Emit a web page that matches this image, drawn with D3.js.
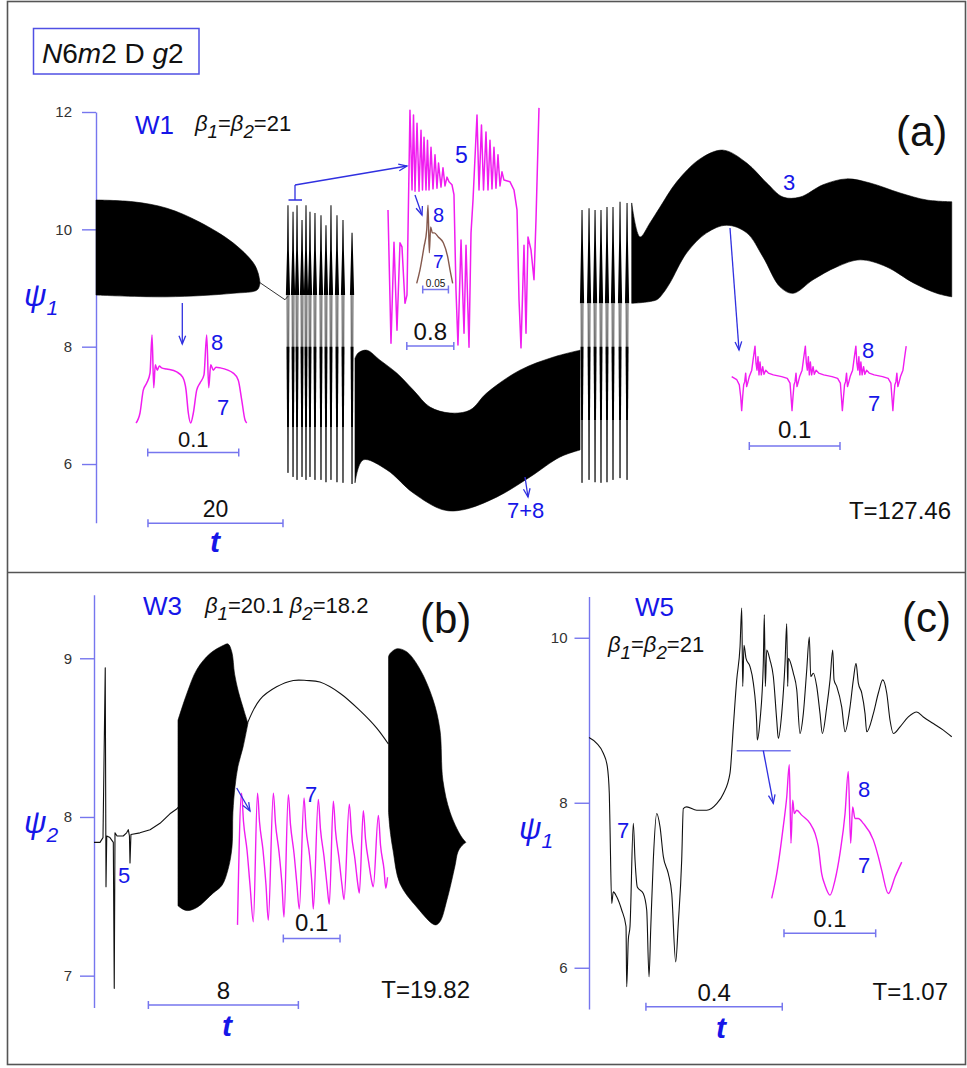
<!DOCTYPE html>
<html><head><meta charset="utf-8">
<script src="https://cdn.jsdelivr.net/npm/d3@7"></script>
<style>html,body{margin:0;padding:0;background:#fff;}svg{display:block;}</style>
</head><body>
<script>
// ---------------- Panel (a): W1, psi1 vs t, T = 127.46 ----------------
const aTicks = [6, 8, 10, 12];
// envelope of the fast oscillation, [t, psi1]
const aEnv1Upper = [[0,10.50],[5.5,10.47],[10.5,10.36],[15.4,10.12],[20.3,9.77],[23.3,9.43],[24.0,9.26],[24.3,9.09]];
const aEnv1Lower = [[0,8.88],[10.5,8.85],[20.3,8.91],[23.9,8.97],[24.3,9.09]];
const aBridge = [[24.3,9.09],[28.0,8.80],[28.44,8.86]];
// first spiking burst
const aBurst1T = [28.44,29.19,29.78,30.52,31.11,31.70,32.44,33.33,34.07,34.81,35.70,36.59,37.93];
const aBurst1Top = [10.41,10.30,10.41,10.16,10.41,10.30,10.28,10.24,10.07,10.41,10.24,10.16,9.94];
const aBurst1Bottom = [5.85,5.78,5.73,5.78,5.73,5.78,5.73,5.73,5.69,5.73,5.69,5.68,5.66];
// 7+8 band
const aEnv3Upper = [[38.37,7.80],[38.81,7.89],[40.10,7.94],[42.07,7.77],[44.55,7.55],[47.01,7.26],[49.48,6.97],[52.44,6.87],[55.41,6.92],[57.88,7.21],[62.81,7.60],[67.70,7.82],[71.70,7.94]];
const aEnv3Lower = [[38.37,5.68],[39.56,6.07],[43.10,5.90],[46.96,5.51],[51.41,5.22],[54.37,5.22],[59.41,5.44],[64.30,5.78],[68.74,6.12],[71.70,6.24]];
// second spiking burst
const aBurst2T = [72.00,73.04,73.93,74.81,75.70,76.59,77.63,78.67];
const aBurst2Top = [10.33,10.36,10.33,10.33,10.38,10.38,10.47,10.45];
const aBurst2Bottom = [5.68,5.73,5.69,5.68,5.69,5.73,5.76,5.73];
// mode 3 band
const aEnv5Upper = [[79.36,10.45],[80.59,9.87],[82.07,10.11],[83.56,10.38],[86.03,10.81],[89.48,11.20],[92.89,11.35],[96.40,11.13],[99.36,10.79],[101.78,10.55],[104.30,10.55],[107.70,10.76],[111.21,10.86],[114.67,10.79],[119.11,10.62],[123.07,10.50],[126.77,10.47]];
const aEnv5Lower = [[79.36,8.74],[83.07,8.80],[84.00,8.91],[85.04,9.09],[87.51,9.60],[90.47,9.94],[93.44,10.07],[96.40,9.94],[98.81,9.53],[101.33,9.02],[103.26,8.91],[106.22,9.14],[109.73,9.36],[113.19,9.48],[117.14,9.36],[121.04,9.09],[124.55,8.91],[126.77,8.85]];
// zoomed windows, [time in ms (or t), psi1]
const aZoomLeft = [[0,6.70],[4.4,6.87],[8.0,7.26],[11.8,7.38],[15.4,7.55],[17.6,8.20],[19.5,7.30],[21.2,7.69],[23.4,7.60],[25.6,7.67],[28.2,7.64],[33.7,7.62],[44.7,7.57],[51.3,7.48],[55.0,7.26],[57.5,6.87],[60.1,6.70],[63.0,6.87],[66.7,7.26],[70.3,7.38],[74.7,7.52],[77.7,8.20],[79.9,7.30],[82.1,7.69],[85.0,7.60],[87.9,7.65],[92.3,7.64],[106.9,7.55],[112.4,7.43],[116.2,7.09],[119.8,6.75],[121.7,6.70]];
const aZoomMid = [[0,10.33],[0.051,8.06],[0.102,9.78],[0.153,8.28],[0.204,9.77],[0.238,9.70],[0.289,8.74],[0.323,8.88],[0.374,12.03],[0.409,10.67],[0.434,11.95],[0.460,10.65],[0.494,11.81],[0.528,10.65],[0.562,11.69],[0.587,10.67],[0.613,11.57],[0.647,10.67],[0.672,11.52],[0.698,10.67],[0.732,11.40],[0.766,10.69],[0.800,11.27],[0.834,10.70],[0.860,11.13],[0.902,10.72],[0.936,11.05],[0.970,10.74],[1.004,10.89],[1.038,10.81],[1.089,10.76],[1.123,10.59],[1.157,8.97],[1.191,8.03],[1.243,9.82],[1.294,8.23],[1.328,9.73],[1.379,7.99],[1.413,9.94],[1.447,10.50],[1.515,11.95],[1.549,10.67],[1.591,11.78],[1.626,10.67],[1.668,11.66],[1.702,10.67],[1.736,11.52],[1.770,10.69],[1.804,11.40],[1.838,10.70],[1.872,11.27],[1.906,10.74],[1.940,10.98],[1.974,10.84],[2.077,10.81],[2.145,10.67],[2.196,10.33],[2.230,8.80],[2.264,7.98],[2.315,9.73],[2.349,8.23],[2.383,9.87],[2.434,9.65],[2.485,9.14],[2.519,10.16],[2.570,12.07]];
const aZoomFine = [[0,9.08],[6.4,9.31],[14.2,9.70],[19.5,9.99],[22.0,10.41],[24.5,9.60],[27.2,10.04],[30.4,9.94],[34.2,9.94],[42.0,9.87],[51.8,9.77],[60.3,9.53],[64.8,9.31],[70.0,9.08]];
const aZoomRight = [[0,7.49],[5.5,7.44],[8.4,7.35],[9.9,7.15],[11.0,6.91],[12.1,7.15],[13.2,7.35],[14.3,7.40],[15.4,7.55],[16.5,7.32],[17.6,7.38],[19.4,7.49],[22.1,7.60],[23.8,7.80],[25.7,8.01],[26.8,7.72],[27.9,7.60],[29.0,7.83],[30.1,7.52],[31.2,7.74],[32.6,7.52],[34.2,7.66],[35.6,7.53],[37.5,7.60],[40.4,7.55],[45.9,7.52],[55.1,7.49],[61.3,7.46],[64.3,7.38],[65.4,7.15],[66.5,6.91],
  [67.6,7.15],[68.7,7.35],[69.8,7.40],[70.9,7.55],[72.0,7.32],[73.1,7.38],[74.9,7.49],[77.6,7.60],[79.3,7.80],[81.2,8.01],[82.3,7.72],[83.4,7.60],[84.5,7.83],[85.6,7.52],[86.7,7.74],[88.1,7.52],[89.7,7.66],[91.1,7.53],[93.0,7.60],[95.9,7.55],[101.4,7.52],[110.6,7.49],[116.8,7.46],[119.8,7.38],[120.9,7.15],[122.0,6.91],
  [123.3,7.15],[124.4,7.35],[125.5,7.40],[126.6,7.55],[127.7,7.32],[128.8,7.38],[130.6,7.49],[133.3,7.60],[135.0,7.80],[136.9,8.01],[138.0,7.72],[139.1,7.60],[140.2,7.83],[141.3,7.52],[142.4,7.74],[143.8,7.52],[145.4,7.66],[146.8,7.53],[148.7,7.60],[151.6,7.55],[157.1,7.52],[166.3,7.49],[172.5,7.46],[175.5,7.38],[176.6,7.15],[177.7,6.91],
  [178.8,7.15],[179.9,7.35],[181.0,7.40],[182.1,7.55],[183.2,7.32],[184.3,7.38],[186.1,7.49],[188.8,7.60],[190.5,7.80],[192.4,8.01]];

// ---------------- Panel (b): W3, psi2 vs t, T = 19.82 ----------------
const bTicks = [7, 8, 9];
const bStart = [[0,7.84],[0.32,7.84],[0.48,7.87],[0.60,8.94],[0.64,7.56],[0.68,7.88],[0.85,7.87],[1.03,7.84],[1.08,6.92],[1.12,7.90],[1.23,7.88],[1.56,7.88],[1.74,7.90],[1.83,7.92],[1.89,7.88],[1.92,7.71],[1.97,7.89],[2.45,7.90],[2.99,7.92],[3.52,7.96],[4.05,8.02],[4.41,8.05],[4.48,8.06]];
const bBlob1Upper = [[4.48,8.61],[4.96,8.78],[5.49,8.93],[6.19,9.03],[6.88,9.08],[7.15,9.09],[7.35,9.04],[7.50,8.90],[7.70,8.79],[8.00,8.67],[8.21,8.59]];
const bBlob1Lower = [[4.48,7.44],[4.59,7.43],[4.96,7.41],[5.49,7.43],[6.35,7.52],[6.83,7.57],[7.15,7.67],[7.36,7.81],[7.41,8.03],[7.52,8.19],[7.68,8.32],[7.95,8.44],[8.21,8.59]];
const bArc = [[8.18,8.59],[8.85,8.74],[9.74,8.82],[10.63,8.86],[11.34,8.86],[12.05,8.85],[13.12,8.78],[14.19,8.67],[15.08,8.56],[15.70,8.46]];
const bBlob2Upper = [[15.71,9.01],[15.79,9.03],[16.16,9.06],[16.69,9.04],[17.39,8.93],[18.08,8.74],[18.45,8.55],[18.61,8.23],[18.99,8.03],[19.57,7.88],[19.84,7.84]];
const bBlob2Lower = [[15.71,8.03],[15.79,7.92],[15.95,7.79],[16.32,7.58],[17.23,7.43],[18.19,7.32],[18.45,7.34],[18.83,7.48],[19.25,7.69],[19.41,7.78],[19.63,7.82],[19.84,7.84]];
const bZoom = [[0,7.32],[7.1,8.15],[10.6,7.97],[16.8,7.79],[22.1,7.57],[27.9,7.34],[35.3,8.15],[38.8,7.97],[45.0,7.79],[50.3,7.57],[54.3,7.35],[63.2,8.15],[67.0,7.96],[73.2,7.78],[78.5,7.57],[82.0,7.37],[89.6,8.14],[93.5,7.95],[99.7,7.77],[104.9,7.57],[109.0,7.42],[117.3,8.12],[120.8,7.93],[127.0,7.76],[131.4,7.57],[133.7,7.42],[142.5,8.11],[146.4,7.92],[152.6,7.75],[157.9,7.57],[161.9,7.45],[169.0,8.10],[172.9,7.91],[179.0,7.74],[184.3,7.57],[187.9,7.48],[197.2,8.08],[201.1,7.89],[207.3,7.73],[211.7,7.59],[214.9,7.52],[221.9,8.04],[225.8,7.86],[232.0,7.70],[236.4,7.60],[239.5,7.56],[248.4,8.01],[252.3,7.82],[258.4,7.67],[261.6,7.55],[264.6,7.62]];

// ---------------- Panel (c): W5, psi1 vs t, T = 1.07 ----------------
const cTicks = [6, 8, 10];
const cTrace = [[0,8.79],[0.0226,8.72],[0.0420,8.60],[0.0537,8.44],[0.0596,8.11],[0.0616,7.71],[0.0666,6.78],[0.0713,6.92],[0.0813,6.86],[0.0959,6.70],[0.1086,6.50],[0.1106,5.77],[0.1153,6.34],[0.1203,6.50],[0.1300,7.75],[0.1350,7.31],[0.1417,6.98],[0.1593,6.90],[0.1693,6.70],[0.1761,5.89],[0.1810,6.46],[0.1887,7.31],[0.1986,7.87],[0.2083,7.71],[0.2180,7.35],[0.2327,7.14],[0.2427,6.90],[0.2544,6.07],[0.2620,6.54],[0.2720,7.31],[0.2767,7.93],[0.2867,7.95],[0.3160,7.91],[0.3454,7.91],[0.3747,7.99],[0.3941,8.11],[0.4137,8.36],[0.4234,8.92],[0.4334,9.49],[0.4431,9.89],[0.4481,10.36],[0.4510,9.41],[0.4548,9.91],[0.4607,9.75],[0.4724,9.65],[0.4822,9.45],[0.4921,8.96],[0.4938,8.76],[0.5018,9.00],[0.5114,9.69],[0.5144,10.28],[0.5173,9.41],[0.5214,9.85],[0.5311,9.73],[0.5408,9.53],[0.5508,9.00],[0.5555,8.78],[0.5654,9.08],[0.5751,9.69],[0.5801,10.17],[0.5830,9.41],[0.5848,9.75],[0.5995,9.57],[0.6095,9.37],[0.6191,8.84],[0.6288,9.08],[0.6388,9.61],[0.6464,10.01],[0.6505,9.53],[0.6582,9.57],[0.6681,9.41],[0.6778,9.08],[0.6846,8.84],[0.6975,9.16],[0.7072,9.49],[0.7151,9.85],[0.7189,9.49],[0.7268,9.41],[0.7415,9.16],[0.7512,8.86],[0.7658,9.16],[0.7755,9.49],[0.7834,9.69],[0.7902,9.45],[0.8002,9.33],[0.8099,9.08],[0.8148,8.86],[0.8342,9.08],[0.8489,9.33],[0.8618,9.49],[0.8735,9.33],[0.8832,9.00],[0.8929,8.84],[0.9125,8.92],[0.9369,9.04],[0.9615,9.10],[0.9809,9.04],[1.0102,8.96],[1.0396,8.88],[1.0643,8.80]];
const cZoom = [[0,6.84],[5.5,7.14],[12.6,7.71],[16.4,8.07],[19.2,8.46],[21.0,7.51],[22.9,8.03],[24.6,7.87],[27.3,7.91],[32.7,7.85],[41.8,7.75],[47.2,7.63],[50.8,7.47],[54.5,7.14],[58.1,7.00],[63.6,6.88],[69.0,7.06],[74.5,7.39],[80.0,7.87],[83.5,8.38],[86.1,7.51],[88.3,7.95],[90.8,7.81],[94.4,7.81],[99.9,7.75],[110.8,7.55],[116.2,7.35],[120.0,7.18],[127.2,6.90],[134.5,7.10],[141.8,7.28]];

// ---------------- drawing ----------------
const FONT = "'Liberation Sans', Arial, Helvetica, sans-serif";
const BLUE = '#1616e8', AXIS = '#7676ee', MAGENTA = '#f01df0', BROWN = '#85594d';
const SMOOTH = d3.curveMonotoneX;

const svg = d3.select('body').append('svg')
  .attr('width', 967).attr('height', 1068).attr('font-family', FONT);

svg.append('rect').attr('x', 7.5).attr('y', 1.5).attr('width', 958).attr('height', 1063)
  .attr('fill', 'none').attr('stroke', '#555').attr('stroke-width', 1.6);
svg.append('line').attr('x1', 7.5).attr('x2', 965.5).attr('y1', 572.5).attr('y2', 572.5)
  .attr('stroke', '#555').attr('stroke-width', 1.6);

function lineGen(x, y, curve) {
  return d3.line().x(d => x(d[0])).y(d => y(d[1])).curve(curve || d3.curveLinear);
}
function trace(g, x, y, pts, color, w, curve) {
  g.append('path').attr('d', lineGen(x, y, curve)(pts))
    .attr('fill', 'none').attr('stroke', color).attr('stroke-width', w)
    .attr('stroke-linejoin', 'round');
}
function band(g, x, y, upper, lower) {
  const ln = lineGen(x, y, d3.curveCatmullRom.alpha(0.5));
  const up = ln(upper), lo = ln(lower.slice().reverse());
  g.append('path').attr('d', up + 'L' + lo.slice(1) + 'Z').attr('fill', '#000')
    .attr('stroke', '#000').attr('stroke-width', 0.6);
}
function spikes(g, x, y, ts, tops, bottoms, lv) {
  ts.forEach((t, i) => {
    const cx = x(t), yT = y(tops[i]), yN = y(lv.neck), yS = y(lv.shoulder), yB = y(bottoms[i]);
    g.append('path')
      .attr('d', `M${cx - 0.5},${yT}L${cx + 0.5},${yT}L${cx + 0.9},${yN}L${cx + 2.1},${yS}L${cx - 2.1},${yS}L${cx - 0.9},${yN}Z`)
      .attr('fill', '#000');
    [-0.9, 0.9].forEach(o => g.append('line')
      .attr('x1', cx + o).attr('y1', yS).attr('x2', cx + o * 0.3).attr('y2', yB)
      .attr('stroke', '#333').attr('stroke-width', 0.9));
    g.append('path')
      .attr('d', `M${cx - 1.4},${y(lv.bandHi)}L${cx + 1.4},${y(lv.bandHi)}L${cx + 0.9},${y(lv.bandLo)}L${cx - 0.9},${y(lv.bandLo)}Z`)
      .attr('fill', '#000');
  });
}
function yAxis(g, y, xPx, ticks, size, pad, fs) {
  const ax = d3.axisLeft(y).tickValues(ticks).tickSize(size).tickSizeOuter(0)
    .tickPadding(pad).tickFormat(d3.format('d'));
  const a = g.append('g').attr('transform', `translate(${xPx},0)`).call(ax);
  a.select('.domain').attr('stroke', AXIS).attr('stroke-width', 1.4);
  a.selectAll('.tick line').attr('stroke', AXIS).attr('stroke-width', 1.4);
  a.selectAll('.tick text').attr('fill', '#333').attr('font-size', fs).attr('font-family', FONT);
}
function scaleBar(g, x, start, len, yPx, label, fs, gap) {
  const x0 = x(start), x1 = x(start + len);
  g.append('line').attr('x1', x0).attr('x2', x1).attr('y1', yPx).attr('y2', yPx)
    .attr('stroke', AXIS).attr('stroke-width', 1.5);
  [x0, x1].forEach(xx => g.append('line').attr('x1', xx).attr('x2', xx)
    .attr('y1', yPx - 4).attr('y2', yPx + 4).attr('stroke', AXIS).attr('stroke-width', 1.5));
  g.append('text').attr('x', (x0 + x1) / 2).attr('y', yPx - gap).attr('text-anchor', 'middle')
    .attr('font-size', fs).attr('fill', '#111').text(label);
}
function arrow(g, x1, y1, x2, y2) {
  g.append('line').attr('x1', x1).attr('y1', y1).attr('x2', x2).attr('y2', y2)
    .attr('stroke', '#3030e0').attr('stroke-width', 1.3);
  const a = Math.atan2(y2 - y1, x2 - x1), L = 9, s = 0.38;
  const p = k => [x2 - L * Math.cos(a + k * s), y2 - L * Math.sin(a + k * s)];
  const [l, r] = [p(1), p(-1)];
  g.append('path').attr('d', `M${l[0]},${l[1]}L${x2},${y2}L${r[0]},${r[1]}`)
    .attr('fill', 'none').attr('stroke', '#3030e0').attr('stroke-width', 1.3);
}
function text(g, s, x, y, fs, color, opts) {
  const t = g.append('text').attr('x', x).attr('y', y).attr('font-size', fs)
    .attr('fill', color || '#111').text(s);
  if (opts) Object.entries(opts).forEach(([k, v]) => t.attr(k, v));
  return t;
}
function rich(g, x, y, fs, segs, color) {
  const t = g.append('text').attr('x', x).attr('y', y).attr('font-size', fs)
    .attr('fill', color || '#111').style('white-space', 'pre');
  let shift = 0;
  segs.forEach(([s, k]) => {
    const sp = t.append('tspan').text(s);
    if (k === 'i' || k === 'sub') sp.attr('font-style', 'italic');
    const want = k === 'sub' ? Math.round(fs * 0.3) : 0;
    if (want !== shift) { sp.attr('dy', want - shift); shift = want; }
    if (k === 'sub') sp.attr('font-size', fs * 0.85);
  });
  return t;
}
function psi(g, x, y, sub) {
  const t = g.append('text').attr('x', x).attr('y', y).attr('fill', BLUE).style('white-space', 'pre');
  t.append('tspan').attr('font-size', 31).attr('font-style', 'italic').text('ψ');
  t.append('tspan').attr('font-size', 21).attr('font-style', 'italic').attr('dy', 9).text(sub);
}
function tLabel(g, x, y) {
  text(g, 't', x, y, 30, BLUE, { 'text-anchor': 'middle', 'font-style': 'italic', 'font-weight': 'bold' });
}

// ---- panel (a)
const xA = d3.scaleLinear().domain([0, 127.46]).range([96, 956.4]);
const yA = d3.scaleLinear().domain([5, 12]).range([522.7, 112]);
const gA = svg.append('g');

gA.append('rect').attr('x', 33.5).attr('y', 28.5).attr('width', 165.5).attr('height', 45.5)
  .attr('fill', 'none').attr('stroke', '#5050e4').attr('stroke-width', 1.5);
rich(gA, 42, 63, 28, [['N', 'i'], ['6', 'n'], ['m', 'i'], ['2 D ', 'n'], ['g', 'i'], ['2', 'n']]);

yAxis(gA, yA, 96, aTicks, 14, 10, 15);
band(gA, xA, yA, aEnv1Upper, aEnv1Lower);
trace(gA, xA, yA, aBridge, '#333', 1);
spikes(gA, xA, yA, aBurst1T, aBurst1Top, aBurst1Bottom, { neck: 9.65, shoulder: 8.88, bandHi: 8.0, bandLo: 6.63 });
band(gA, xA, yA, aEnv3Upper, aEnv3Lower);
spikes(gA, xA, yA, aBurst2T, aBurst2Top, aBurst2Bottom, { neck: 9.8, shoulder: 8.74, bandHi: 8.0, bandLo: 6.75 });
band(gA, xA, yA, aEnv5Upper, aEnv5Lower);

text(gA, 'W1', 135, 134, 26, BLUE);
rich(gA, 195, 131, 22, [['β', 'i'], ['1', 'sub'], ['=', 'n'], ['β', 'i'], ['2', 'sub'], ['=21', 'n']]);
text(gA, '(a)', 896, 146, 42, '#111');
psi(gA, 24, 306, '1');
scaleBar(gA, xA, 7.7, 20, 523.3, '20', 23, 6);
tLabel(gA, 215, 552);
text(gA, 'T=127.46', 951, 519, 24, '#111', { 'text-anchor': 'end' });
text(gA, '3', 783, 190, 22, BLUE);
text(gA, '7+8', 507, 518, 22, BLUE);
arrow(gA, 525, 477, 528, 497);

// left zoom window
const xAL = d3.scaleLinear().domain([0, 100]).range([136, 227]);
trace(gA, xAL, yA, aZoomLeft, MAGENTA, 1.5, SMOOTH);
arrow(gA, 182.3, 303, 182.3, 344);
text(gA, '8', 211, 350, 22, BLUE);
text(gA, '7', 217, 415, 22, BLUE);
scaleBar(gA, xAL, 12.9, 100, 452.5, '0.1', 22, 6);

// middle zoom window
const xAM = d3.scaleLinear().domain([0, 0.8]).range([388, 435]);
trace(gA, xAM, yA, aZoomMid, MAGENTA, 1.5);
gA.append('path').attr('d', 'M288.5,200L302,200M295,200L295,185')
  .attr('fill', 'none').attr('stroke', '#3030e0').attr('stroke-width', 1.3);
arrow(gA, 295, 185, 407, 166);
arrow(gA, 415, 195, 422, 215);
text(gA, '5', 455, 163, 23, BLUE);
scaleBar(gA, xAM, 0.32, 0.8, 346, '0.8', 24, 6);
const xAF = d3.scaleLinear().domain([0, 50]).range([416.7, 442.4]);
trace(gA, xAF, yA, aZoomFine, BROWN, 1.4, SMOOTH);
text(gA, '8', 433, 222, 20, BLUE);
text(gA, '7', 433, 268, 19, BLUE);
scaleBar(gA, xAF, 11.7, 50, 289.5, '0.05', 10, 3);

// right zoom window
const xAR = d3.scaleLinear().domain([0, 100]).range([731.7, 822.4]);
trace(gA, xAR, yA, aZoomRight, MAGENTA, 1.4);
arrow(gA, 730, 228, 739, 350);
text(gA, '8', 862, 358, 22, BLUE);
text(gA, '7', 868, 411, 22, BLUE);
scaleBar(gA, xAR, 19.4, 100, 446, '0.1', 24, 8);

// ---- panel (b)
const xB = d3.scaleLinear().domain([0, 19.82]).range([94, 465.6]);
const yB = d3.scaleLinear().domain([6.8, 9.4]).range([1007.4, 594.8]);
const gB = svg.append('g');
yAxis(gB, yB, 94, bTicks, 14, 8, 15);
trace(gB, xB, yB, bStart, '#111', 1.1);
band(gB, xB, yB, bBlob1Upper, bBlob1Lower);
trace(gB, xB, yB, bArc, '#111', 1.1, d3.curveCatmullRom);
band(gB, xB, yB, bBlob2Upper, bBlob2Lower);
const xBZ = d3.scaleLinear().domain([0, 100]).range([237.5, 294.2]);
trace(gB, xBZ, yB, bZoom, MAGENTA, 1.4, SMOOTH);
arrow(gB, 236.7, 788, 250, 811);
text(gB, 'W3', 143, 615, 26, BLUE);
rich(gB, 205, 613, 22, [['β', 'i'], ['1', 'sub'], ['=20.1 ', 'n'], ['β', 'i'], ['2', 'sub'], ['=18.2', 'n']]);
text(gB, '(b)', 420, 633, 42, '#111');
psi(gB, 24, 833, '2');
text(gB, '5', 118, 883, 22, BLUE);
text(gB, '7', 305, 802, 22, BLUE);
scaleBar(gB, xBZ, 80.8, 100, 938.5, '0.1', 24, 8);
scaleBar(gB, xB, 2.9, 8, 1005, '8', 24, 6);
tLabel(gB, 227, 1036);
text(gB, 'T=19.82', 470, 998, 24, '#111', { 'text-anchor': 'end' });

// ---- panel (c)
const xC = d3.scaleLinear().domain([0, 1.07]).range([589, 953.7]);
const yC = d3.scaleLinear().domain([5.5, 10.5]).range([1009, 596.5]);
const gC = svg.append('g');
yAxis(gC, yC, 589, cTicks, 14.5, 7, 15);
trace(gC, xC, yC, cTrace, '#111', 1.1, SMOOTH);
const xCZ = d3.scaleLinear().domain([0, 100]).range([771.7, 863.4]);
trace(gC, xCZ, yC, cZoom, MAGENTA, 1.4, SMOOTH);
gC.append('line').attr('x1', 736.7).attr('x2', 790.7).attr('y1', 750.7).attr('y2', 750.7)
  .attr('stroke', AXIS).attr('stroke-width', 1.5);
arrow(gC, 763.3, 750.7, 773.3, 803.3);
text(gC, 'W5', 635, 616, 26, BLUE);
rich(gC, 608, 652, 22, [['β', 'i'], ['1', 'sub'], ['=', 'n'], ['β', 'i'], ['2', 'sub'], ['=21', 'n']]);
text(gC, '(c)', 902, 632, 42, '#111');
psi(gC, 519, 839, '1');
text(gC, '7', 617, 838, 22, BLUE);
text(gC, '8', 858, 797, 22, BLUE);
text(gC, '7', 858, 873, 22, BLUE);
scaleBar(gC, xCZ, 13.4, 100, 933.3, '0.1', 24, 6);
scaleBar(gC, xC, 0.167, 0.4, 1006.7, '0.4', 24, 6);
tLabel(gC, 721, 1038);
text(gC, 'T=1.07', 948, 1000, 24, '#111', { 'text-anchor': 'end' });
</script>
</body></html>
